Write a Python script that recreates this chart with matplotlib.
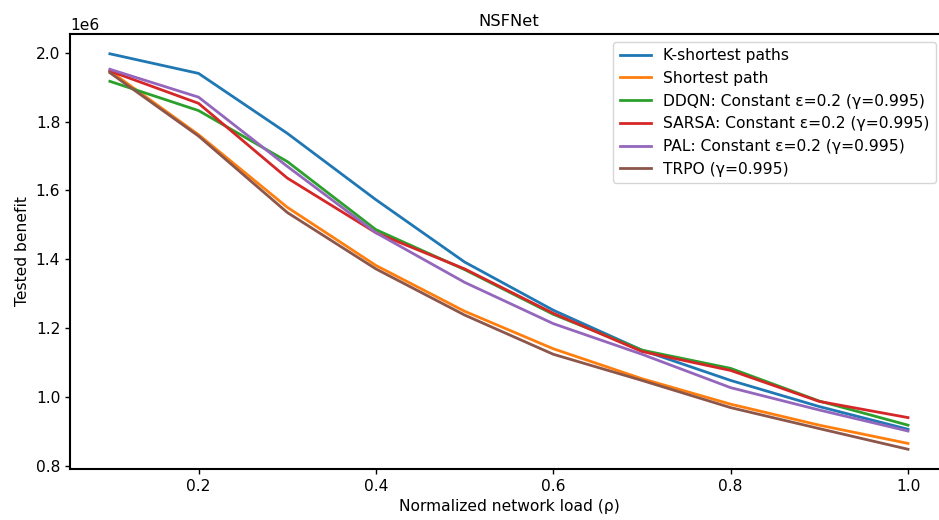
import matplotlib
matplotlib.use("Agg")
import matplotlib.pyplot as plt

# network load values (x axis)
loads = [0.1, 0.2, 0.3, 0.4, 0.5, 0.6, 0.7, 0.8, 0.9, 1.0]

# tested benefit per method (units of 1e6)
k_shortest = [1.997, 1.940, 1.766, 1.573, 1.392, 1.252, 1.136, 1.048, 0.972, 0.906]
shortest = [1.947, 1.762, 1.551, 1.382, 1.249, 1.140, 1.053, 0.979, 0.918, 0.865]
ddqn = [1.917, 1.832, 1.684, 1.486, 1.370, 1.240, 1.136, 1.083, 0.988, 0.918]
sarsa = [1.947, 1.853, 1.636, 1.477, 1.372, 1.243, 1.132, 1.077, 0.987, 0.940]
pal = [1.952, 1.871, 1.670, 1.477, 1.333, 1.213, 1.124, 1.027, 0.962, 0.901]
trpo = [1.942, 1.758, 1.536, 1.372, 1.238, 1.124, 1.048, 0.969, 0.908, 0.848]

series = [
    ("K-shortest paths", k_shortest),
    ("Shortest path", shortest),
    ("DDQN: Constant ε=0.2 (γ=0.995)", ddqn),
    ("SARSA: Constant ε=0.2 (γ=0.995)", sarsa),
    ("PAL: Constant ε=0.2 (γ=0.995)", pal),
    ("TRPO (γ=0.995)", trpo),
]

fs = 11.2
fig = plt.figure(figsize=(9.39, 5.2), dpi=100)
# axes runs slightly past the right edge, like the cropped original
ax = fig.add_axes([0.0745, 0.098, 0.935, 0.8366])

for label, vals in series:
    ax.plot(loads, [v * 1e6 for v in vals], label=label, linewidth=2)

for side in ["left", "bottom", "top", "right"]:
    ax.spines[side].set_linewidth(1.5)

ax.set_title("NSFNet", fontsize=11.8)
ax.set_xlabel("Normalized network load (ρ)", fontsize=fs)
ax.set_ylabel("Tested benefit", fontsize=fs)
ax.tick_params(labelsize=fs, width=1, length=3.5)
ax.yaxis.get_offset_text().set_fontsize(fs)
ax.set_xticks([0.2, 0.4, 0.6, 0.8, 1.0])
ax.legend(loc="upper right", fontsize=fs, bbox_to_anchor=(0.995, 1.0))

fig.savefig("out.png", dpi=100)
